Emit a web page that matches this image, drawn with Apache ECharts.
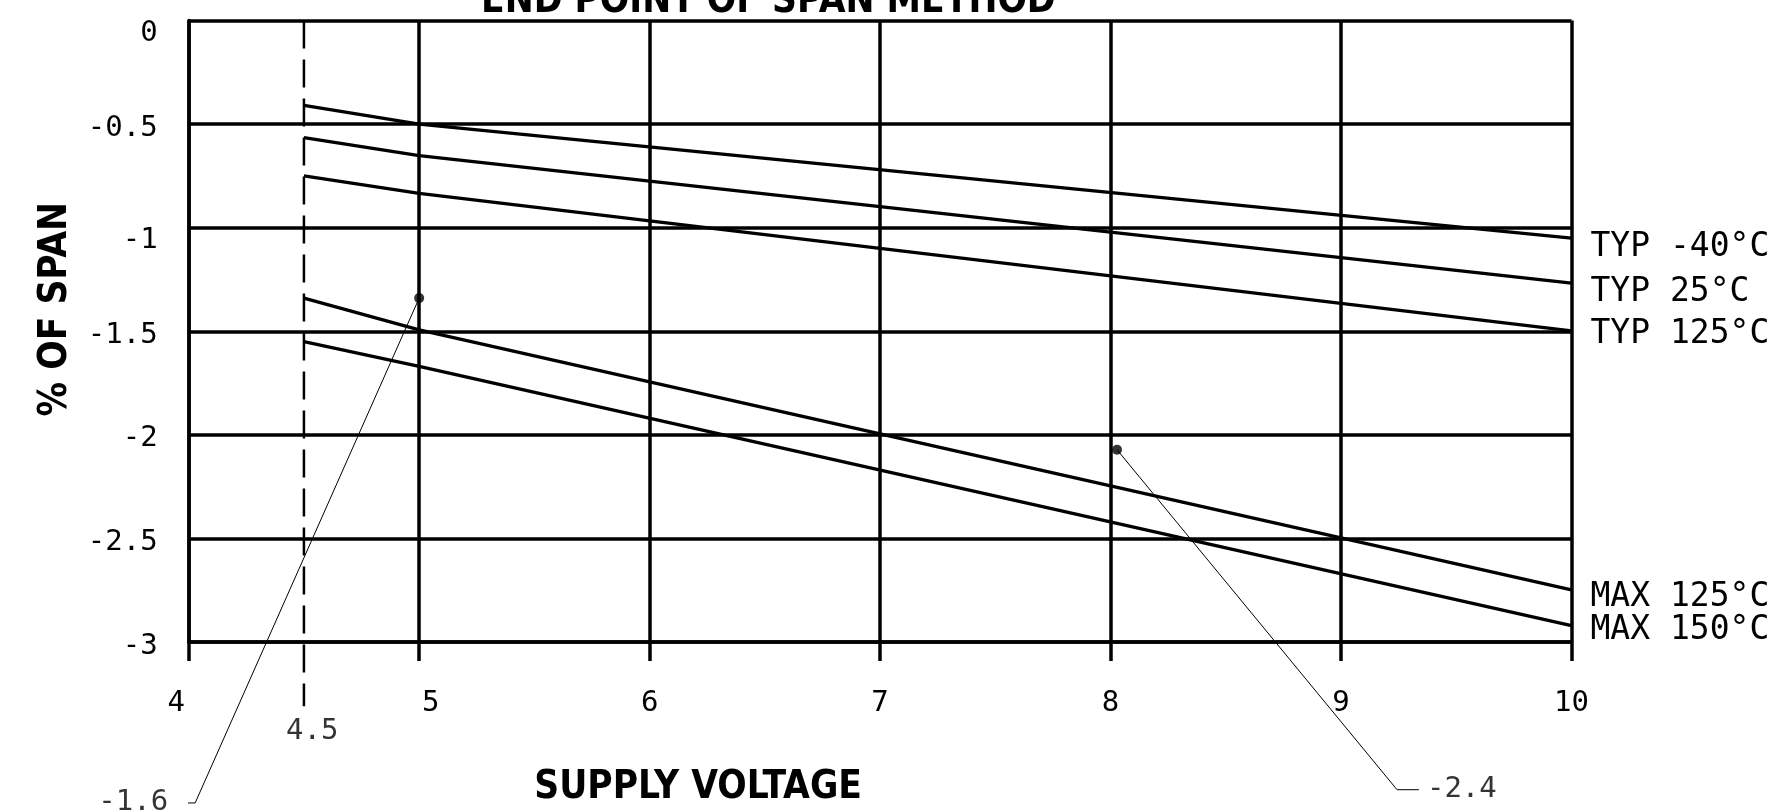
<!DOCTYPE html>
<html>
<head>
<meta charset="utf-8">
<script src="https://cdn.jsdelivr.net/npm/echarts@6/dist/echarts.min.js"></script>
<style>
html, body { margin: 0; padding: 0; background: #ffffff; }
#chart { width: 1778px; height: 812px; }
</style>
</head>
<body>
<div id="chart"></div>
<script>
// ---- data ----
const voltages = [4.5, 5, 10];
const typM40 = [-0.41, -0.5, -1.05];
const typ25 = [-0.565, -0.652, -1.268];
const typ125 = [-0.75, -0.835, -1.498];
const max125 = [-1.34, -1.493, -2.748];
const max150 = [-1.55, -1.67, -2.921];
const seriesNames = ['TYP -40°C', 'TYP 25°C', 'TYP 125°C', 'MAX 125°C', 'MAX 150°C'];
const xTicks = [4, 5, 6, 7, 8, 9, 10];
const yTicks = [0, -0.5, -1, -1.5, -2, -2.5, -3];
const minVoltageLine = [[4.5, 0], [4.5, -3.31]];
const minVoltageLabel = [[4.536, -3.43]];
const callout1 = [[5, -1.34], [4.028, -3.777], [3.937, -3.777]];
const callout2 = [[8.028, -2.072], [9.243, -3.713], [9.338, -3.713]];
const calloutValues = ['-1.6', '-2.4'];
const titleText = 'END POINT OF SPAN METHOD';
const xName = 'SUPPLY VOLTAGE';
const yName = '% OF SPAN';

const seriesValues = [typM40, typ25, typ125, max125, max150];
const endOffsets = [[0, 9], [0, 9], [0, 4], [0, 8], [0, 5]];

const MONO = "'DejaVu Sans Mono', monospace";
const BOLD = "'Liberation Sans Narrow', 'DejaVu Sans Condensed', sans-serif";

const chart = echarts.init(document.getElementById('chart'));

const mainSeries = seriesValues.map((vals, i) => ({
  name: seriesNames[i],
  type: 'line',
  data: voltages.map((v, k) => [v, vals[k]]),
  symbol: 'none',
  clip: false,
  lineStyle: { color: '#000', width: 3.3 },
  endLabel: {
    show: true,
    formatter: '{a}',
    color: '#000',
    fontFamily: MONO,
    fontSize: 33,
    distance: 19,
    offset: endOffsets[i]
  },
  z: 3
}));

const option = {
  animation: false,
  backgroundColor: '#ffffff',
  title: {
    text: titleText,
    left: 481,
    top: -18,
    padding: 0,
    textStyle: { fontFamily: BOLD, fontWeight: 'bold', fontSize: 38.5, color: '#000' }
  },
  grid: { left: 188.7, right: 1778 - 1571.5, top: 20.5, bottom: 812 - 642.3, containLabel: false },
  xAxis: {
    type: 'value',
    min: 4, max: 10, interval: 1,
    name: xName,
    nameLocation: 'middle',
    nameGap: 126,
    nameTextStyle: { fontFamily: BOLD, fontWeight: 'bold', fontSize: 38.5, color: '#000', padding: [0, 364, 0, 0] },
    axisLine: { show: true, onZero: false, lineStyle: { color: '#000', width: 3.5 } },
    axisTick: { show: true, length: 19, lineStyle: { color: '#000', width: 3.5 } },
    axisLabel: {
      margin: 47,
      color: '#000',
      fontFamily: MONO,
      fontSize: 29,
      formatter: function (v) {
        if (v === xTicks[0]) return '{l|' + v + '}';
        if (v === xTicks[1]) return '{r|' + v + '}';
        return String(v);
      },
      rich: {
        l: { fontFamily: MONO, fontSize: 29, color: '#000', padding: [0, 25, 0, 0] },
        r: { fontFamily: MONO, fontSize: 29, color: '#000', padding: [0, 0, 0, 23] }
      }
    },
    splitLine: { show: true, lineStyle: { color: '#000', width: 3.5 } }
  },
  yAxis: {
    type: 'value',
    min: yTicks[yTicks.length - 1], max: yTicks[0], interval: 0.5,
    name: yName,
    nameLocation: 'middle',
    nameGap: 113,
    nameTextStyle: { fontFamily: BOLD, fontWeight: 'bold', fontSize: 38.5, color: '#000', padding: [0, 0, 0, 44] },
    axisLine: { show: true, onZero: false, lineStyle: { color: '#000', width: 3.5 } },
    axisTick: { show: false },
    axisLabel: {
      margin: 31,
      color: '#000',
      fontFamily: MONO,
      fontSize: 29,
      formatter: function (v) {
        if (v === yTicks[0] || v === yTicks[2]) return '{b|' + v + '}';
        return '{a|' + v + '}';
      },
      rich: {
        a: { fontFamily: MONO, fontSize: 29, color: '#000', padding: [8, 0, 0, 0] },
        b: { fontFamily: MONO, fontSize: 29, color: '#000', padding: [26, 0, 0, 0] }
      }
    },
    splitLine: { show: true, lineStyle: { color: '#000', width: 3.5 } }
  },
  series: mainSeries.concat([
    {
      type: 'line',
      data: minVoltageLine,
      symbol: 'none',
      clip: false,
      silent: true,
      lineStyle: { color: '#000', width: 2.5, type: [28, 11] },
      z: 2
    },
    {
      type: 'scatter',
      data: minVoltageLabel.map(p => ({ value: p, name: '4.5' })),
      symbolSize: 0,
      clip: false,
      label: { show: true, position: 'inside', formatter: '{b}', color: '#000', fontFamily: MONO, fontSize: 29 }
    },
    {
      type: 'line',
      data: callout1,
      symbol: 'none',
      clip: false,
      lineStyle: { color: '#000', width: 1 },
      z: 4
    },
    {
      type: 'line',
      data: callout2,
      symbol: 'none',
      clip: false,
      lineStyle: { color: '#000', width: 1 },
      z: 4
    },
    {
      type: 'scatter',
      data: [callout1[0], callout2[0]],
      symbol: 'circle',
      symbolSize: 10,
      clip: false,
      itemStyle: { color: '#000' },
      z: 5
    },
    {
      type: 'scatter',
      data: [
        { value: callout1[2], name: calloutValues[0], label: { position: 'left', distance: 6 } },
        { value: callout2[2], name: calloutValues[1], label: { position: 'right', distance: 8 } }
      ],
      symbolSize: 0,
      clip: false,
      label: { show: true, formatter: '{b}', color: '#000', fontFamily: MONO, fontSize: 29 }
    }
  ])
};

chart.setOption(option);
</script>
</body>
</html>
